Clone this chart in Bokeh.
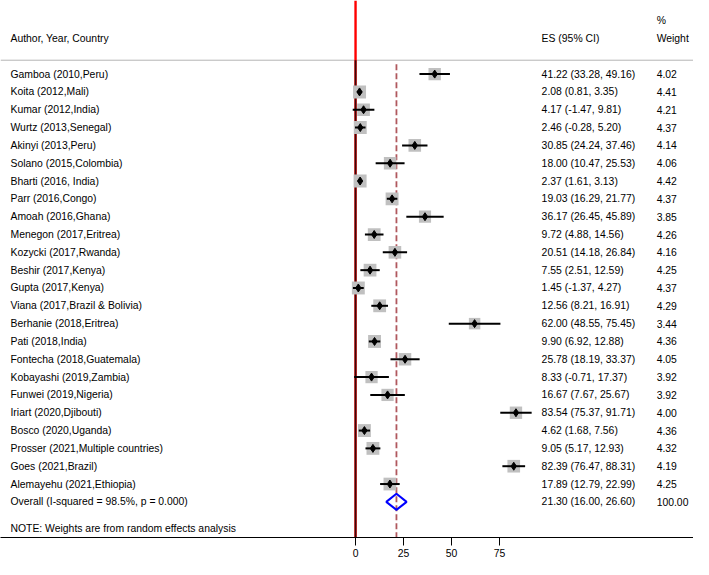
from bokeh.plotting import figure
from bokeh.models import Range1d, FixedTicker, ColumnDataSource
from bokeh.embed import file_html
from bokeh.resources import INLINE
from bokeh.core.properties import value
import math

studies = ["Gamboa (2010,Peru)", "Koita (2012,Mali)", "Kumar (2012,India)", "Wurtz (2013,Senegal)",
           "Akinyi (2013,Peru)", "Solano (2015,Colombia)", "Bharti (2016, India)", "Parr (2016,Congo)",
           "Amoah (2016,Ghana)", "Menegon (2017,Eritrea)", "Kozycki (2017,Rwanda)", "Beshir (2017,Kenya)",
           "Gupta (2017,Kenya)", "Viana (2017,Brazil & Bolivia)", "Berhanie (2018,Eritrea)", "Pati (2018,India)",
           "Fontecha (2018,Guatemala)", "Kobayashi (2019,Zambia)", "Funwei (2019,Nigeria)", "Iriart (2020,Djibouti)",
           "Bosco (2020,Uganda)", "Prosser (2021,Multiple countries)", "Goes (2021,Brazil)", "Alemayehu (2021,Ethiopia)"]
es = [41.22, 2.08, 4.17, 2.46, 30.85, 18.00, 2.37, 19.03, 36.17, 9.72, 20.51, 7.55,
      1.45, 12.56, 62.00, 9.90, 25.78, 8.33, 16.67, 83.54, 4.62, 9.05, 82.39, 17.89]
lower = [33.28, 0.81, -1.47, -0.28, 24.24, 10.47, 1.61, 16.29, 26.45, 4.88, 14.18, 2.51,
         -1.37, 8.21, 48.55, 6.92, 18.19, -0.71, 7.67, 75.37, 1.68, 5.17, 76.47, 12.79]
upper = [49.16, 3.35, 9.81, 5.20, 37.46, 25.53, 3.13, 21.77, 45.89, 14.56, 26.84, 12.59,
         4.27, 16.91, 75.45, 12.88, 33.37, 17.37, 25.67, 91.71, 7.56, 12.93, 88.31, 22.99]
weights = [4.02, 4.41, 4.21, 4.37, 4.14, 4.06, 4.42, 4.37, 3.85, 4.26, 4.16, 4.25,
           4.37, 4.29, 3.44, 4.36, 4.05, 3.92, 3.92, 4.00, 4.36, 4.32, 4.19, 4.25]
overall_label = "Overall  (I-squared = 98.5%, p = 0.000)"
overall_es, overall_lo, overall_hi, overall_w = 21.30, 16.00, 26.60, 100.00
note = "NOTE: Weights are from random effects analysis"
x_ticks = [0, 25, 50, 75]

FONT = value("Liberation Sans")
FS = "10.4px"

n = len(studies)
rows = list(range(n))
overall_row = n
note_row = n + 1.5
Y_TOP, Y_AXIS = -4.13, 26.0
X_LEFT, X_RIGHT = -184.9, 176.0
LABEL_X, ES_X, W_X = -179.7, 96.9, 156.8

p = figure(width=693, height=559, output_backend="svg", toolbar_location=None,
           x_range=Range1d(X_LEFT, X_RIGHT), y_range=Range1d(Y_AXIS, Y_TOP),
           y_axis_location=None, min_border_left=0, min_border_right=0,
           min_border_top=0, min_border_bottom=0)
p.outline_line_color = None
p.xgrid.visible = False
p.ygrid.visible = False
p.background_fill_color = "white"
p.border_fill_color = "white"

ax = p.xaxis[0]
ax.ticker = FixedTicker(ticks=x_ticks)
ax.major_tick_out = 8
ax.major_tick_in = 0
ax.minor_tick_out = 0
ax.minor_tick_in = 0
ax.axis_line_color = "black"
ax.major_tick_line_color = "black"
ax.major_label_text_font = "Liberation Sans"
ax.major_label_text_font_size = FS
ax.major_label_text_color = "black"
ax.major_label_standoff = 3

# header separator
p.segment(x0=[X_LEFT], y0=[-0.78], x1=[X_RIGHT], y1=[-0.78], line_color="#b4b4b4", line_width=1)

# null line
p.segment(x0=[0], y0=[Y_TOP], x1=[0], y1=[Y_AXIS], line_color="#ff0000", line_width=2.4)
p.segment(x0=[0], y0=[-0.78], x1=[0], y1=[Y_AXIS], line_color="#3c0808", line_width=1.8)

# overall effect dashed line
p.segment(x0=[overall_es], y0=[-0.55], x1=[overall_es], y1=[Y_AXIS], line_color="#b0585e",
          line_width=1.8, line_dash="6 3")

sizes = [13 * math.sqrt(w / max(weights)) for w in weights]
src = ColumnDataSource(dict(y=rows, es=es, lo=lower, hi=upper, size=sizes, name=studies,
                            est=[f"{e:.2f} ({l:.2f}, {h:.2f})" for e, l, h in zip(es, lower, upper)],
                            wt=[f"{w:.2f}" for w in weights]))

p.scatter(x="es", y="y", size="size", marker="square", source=src, fill_color="#c0c0c0",
          line_color=None)
p.segment(x0="lo", y0="y", x1="hi", y1="y", source=src, line_color="black", line_width=2)
p.scatter(x="es", y="y", size=8, marker="diamond", source=src, fill_color="black", line_color="black")

# overall diamond
h = 0.45
p.patch(x=[overall_lo, overall_es, overall_hi, overall_es, overall_lo],
        y=[overall_row, overall_row - h, overall_row, overall_row + h, overall_row],
        fill_color=None, line_color="#0000ff", line_width=2)

txt = dict(text_font=FONT, text_font_size=FS, text_baseline="middle", text_color="black")
p.text(x=LABEL_X, y="y", text="name", source=src, **txt)
p.text(x=ES_X, y="y", text="est", source=src, **txt)
p.text(x=W_X, y="y", text="wt", source=src, **txt)

p.text(x=[LABEL_X, ES_X, W_X], y=[-2, -2, -2], text=["Author, Year, Country", "ES (95% CI)", "Weight"], **txt)
p.text(x=[W_X], y=[-3], text=["%"], **txt)
p.text(x=[LABEL_X, ES_X, W_X], y=[overall_row] * 3,
       text=[overall_label, f"{overall_es:.2f} ({overall_lo:.2f}, {overall_hi:.2f})", f"{overall_w:.2f}"], **txt)
p.text(x=[LABEL_X], y=[note_row], text=[note], **txt)

open("out.html", "w").write(file_html(p, INLINE))
